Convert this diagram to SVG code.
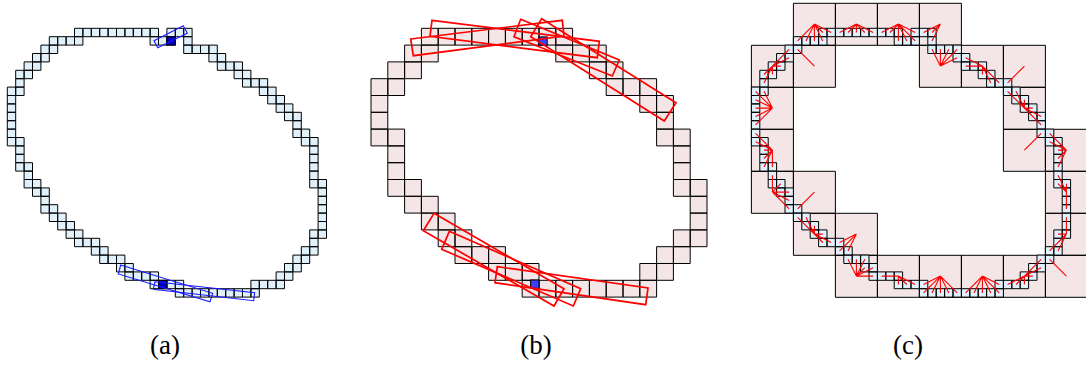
<svg xmlns="http://www.w3.org/2000/svg" xmlns:xlink="http://www.w3.org/1999/xlink" width="1086" height="367" viewBox="0 0 1086 367">
<style>
.cell{fill:#e1f1fc;stroke:#000;stroke-width:1;vector-effect:non-scaling-stroke}
.big{fill:#f4e6e6;stroke:#000;stroke-width:1;vector-effect:non-scaling-stroke}
.blue{fill:none;stroke:#1a1aff;stroke-width:1.1}
.red{fill:none;stroke:#ff0000;stroke-width:1.7}
.spoke{fill:none;stroke:#ff0000;stroke-width:1.1;vector-effect:non-scaling-stroke}
text{font-family:"Liberation Serif","Times New Roman",serif;font-size:27px;fill:#000;text-anchor:middle}
</style>
<defs>
<path id="curve" class="cell" d="M8 0h1v1h-1zM9 0h1v1h-1zM10 0h1v1h-1zM11 0h1v1h-1zM12 0h1v1h-1zM13 0h1v1h-1zM14 0h1v1h-1zM15 0h1v1h-1zM16 0h1v1h-1zM17 0h1v1h-1zM19 0h1v1h-1zM20 0h1v1h-1zM21 0h1v1h-1z
M5 1h1v1h-1zM6 1h1v1h-1zM7 1h1v1h-1zM8 1h1v1h-1zM17 1h1v1h-1zM18 1h1v1h-1zM19 1h1v1h-1zM21 1h1v1h-1z
M4 2h1v1h-1zM5 2h1v1h-1zM21 2h1v1h-1zM22 2h1v1h-1zM23 2h1v1h-1zM24 2h1v1h-1z
M3 3h1v1h-1zM4 3h1v1h-1zM24 3h1v1h-1zM25 3h1v1h-1z
M2 4h1v1h-1zM3 4h1v1h-1zM25 4h1v1h-1zM26 4h1v1h-1zM27 4h1v1h-1z
M1 5h1v1h-1zM2 5h1v1h-1zM27 5h1v1h-1zM28 5h1v1h-1z
M1 6h1v1h-1zM28 6h1v1h-1zM29 6h1v1h-1zM30 6h1v1h-1z
M0 7h1v1h-1zM1 7h1v1h-1zM30 7h1v1h-1zM31 7h1v1h-1z
M0 8h1v1h-1zM31 8h1v1h-1zM32 8h1v1h-1z
M0 9h1v1h-1zM32 9h1v1h-1zM33 9h1v1h-1z
M0 10h1v1h-1zM33 10h1v1h-1zM34 10h1v1h-1z
M0 11h1v1h-1zM34 11h1v1h-1z
M0 12h1v1h-1zM34 12h1v1h-1zM35 12h1v1h-1z
M0 13h1v1h-1zM1 13h1v1h-1zM35 13h1v1h-1zM36 13h1v1h-1z
M1 14h1v1h-1zM36 14h1v1h-1z
M1 15h1v1h-1zM36 15h1v1h-1z
M1 16h1v1h-1zM2 16h1v1h-1zM36 16h1v1h-1z
M2 17h1v1h-1zM36 17h1v1h-1z
M2 18h1v1h-1zM3 18h1v1h-1zM36 18h1v1h-1zM37 18h1v1h-1z
M3 19h1v1h-1zM4 19h1v1h-1zM37 19h1v1h-1z
M4 20h1v1h-1zM37 20h1v1h-1z
M4 21h1v1h-1zM5 21h1v1h-1zM37 21h1v1h-1z
M5 22h1v1h-1zM6 22h1v1h-1zM37 22h1v1h-1z
M6 23h1v1h-1zM7 23h1v1h-1zM37 23h1v1h-1z
M7 24h1v1h-1zM8 24h1v1h-1zM36 24h1v1h-1zM37 24h1v1h-1z
M8 25h1v1h-1zM9 25h1v1h-1zM10 25h1v1h-1zM36 25h1v1h-1z
M10 26h1v1h-1zM11 26h1v1h-1zM35 26h1v1h-1zM36 26h1v1h-1z
M11 27h1v1h-1zM12 27h1v1h-1zM13 27h1v1h-1zM34 27h1v1h-1zM35 27h1v1h-1z
M13 28h1v1h-1zM14 28h1v1h-1zM33 28h1v1h-1zM34 28h1v1h-1z
M14 29h1v1h-1zM15 29h1v1h-1zM16 29h1v1h-1zM17 29h1v1h-1zM32 29h1v1h-1zM33 29h1v1h-1z
M17 30h1v1h-1zM18 30h1v1h-1zM19 30h1v1h-1zM20 30h1v1h-1zM29 30h1v1h-1zM30 30h1v1h-1zM31 30h1v1h-1zM32 30h1v1h-1z
M20 31h1v1h-1zM21 31h1v1h-1zM22 31h1v1h-1zM23 31h1v1h-1zM24 31h1v1h-1zM25 31h1v1h-1zM26 31h1v1h-1zM27 31h1v1h-1zM28 31h1v1h-1zM29 31h1v1h-1z"/>
</defs>

<g id="panel-a">
<use href="#curve" xlink:href="#curve" transform="translate(7.3 28.3) scale(8.4)"/>
<rect x="166.9" y="36.7" width="8.4" height="8.4" fill="#0000c0" stroke="#000" stroke-width="1"/>
<rect x="158.5" y="280.3" width="8.4" height="8.4" fill="#0000c0" stroke="#000" stroke-width="1"/>
<polygon class="blue" points="154,40.7 183.3,25.7 187.3,33.3 157.7,47.7"/>
<polygon class="blue" points="120.7,265 212.7,293.3 210,301.7 118.3,274"/>
<polygon class="blue" points="155,281.7 254.7,292.7 253.7,300.7 153.3,289.3"/>
</g>

<g id="panel-b">
<path class="big" transform="translate(371 28.3) scale(16.8)" d="M3 0h1v1h-1zM4 0h1v1h-1zM5 0h1v1h-1zM6 0h1v1h-1zM7 0h1v1h-1zM8 0h1v1h-1zM9 0h1v1h-1zM10 0h1v1h-1zM11 0h1v1h-1z
M2 1h1v1h-1zM3 1h1v1h-1zM11 1h1v1h-1zM12 1h1v1h-1zM13 1h1v1h-1z
M1 2h1v1h-1zM2 2h1v1h-1zM13 2h1v1h-1zM14 2h1v1h-1z
M0 3h1v1h-1zM1 3h1v1h-1zM14 3h1v1h-1zM15 3h1v1h-1zM16 3h1v1h-1z
M0 4h1v1h-1zM16 4h1v1h-1zM17 4h1v1h-1z
M0 5h1v1h-1zM17 5h1v1h-1z
M0 6h1v1h-1zM1 6h1v1h-1zM17 6h1v1h-1zM18 6h1v1h-1z
M1 7h1v1h-1zM18 7h1v1h-1z
M1 8h1v1h-1zM18 8h1v1h-1z
M1 9h1v1h-1zM2 9h1v1h-1zM18 9h1v1h-1zM19 9h1v1h-1z
M2 10h1v1h-1zM3 10h1v1h-1zM19 10h1v1h-1z
M3 11h1v1h-1zM4 11h1v1h-1zM19 11h1v1h-1z
M4 12h1v1h-1zM5 12h1v1h-1zM18 12h1v1h-1zM19 12h1v1h-1z
M5 13h1v1h-1zM6 13h1v1h-1zM7 13h1v1h-1zM17 13h1v1h-1zM18 13h1v1h-1z
M7 14h1v1h-1zM8 14h1v1h-1zM9 14h1v1h-1zM16 14h1v1h-1zM17 14h1v1h-1z
M9 15h1v1h-1zM10 15h1v1h-1zM11 15h1v1h-1zM12 15h1v1h-1zM13 15h1v1h-1zM14 15h1v1h-1zM15 15h1v1h-1zM16 15h1v1h-1z"/>
<rect x="538.8" y="36.9" width="8.4" height="8.4" fill="#3f3fff" stroke="#000" stroke-width="1"/>
<rect x="530.6" y="280" width="8.4" height="8.4" fill="#3f3fff" stroke="#000" stroke-width="1"/>
<polygon class="red" points="432,20.3 599.3,41.3 597.3,57.7 430,36.3"/>
<polygon class="red" points="410.7,39 562.3,20.3 564,36 413.3,55.7"/>
<polygon class="red" points="520.7,19.3 619.3,60 612.3,76 514,36.7"/>
<polygon class="red" points="541.7,18.7 676,102.7 664.3,121 530.7,36.7"/>
<polygon class="red" points="434,213.3 564,288.7 554,306 423.3,230.7"/>
<polygon class="red" points="449.3,231.3 580.7,288.7 573.3,306 441.7,249.3"/>
<polygon class="red" points="497.3,266.7 648,288 645.7,304.7 495,282.7"/>
</g>

<g id="panel-c">
<path class="big" transform="translate(751.4 3.3) scale(42)" d="M1 0h1v1h-1zM2 0h1v1h-1zM3 0h1v1h-1zM4 0h1v1h-1z
M0 1h1v1h-1zM1 1h1v1h-1zM4 1h1v1h-1zM5 1h1v1h-1zM6 1h1v1h-1z
M0 2h1v1h-1zM6 2h1v1h-1z
M0 3h1v1h-1zM6 3h1v1h-1zM7 3h1v1h-1z
M0 4h1v1h-1zM1 4h1v1h-1zM7 4h1v1h-1z
M1 5h1v1h-1zM2 5h1v1h-1zM7 5h1v1h-1z
M2 6h1v1h-1zM3 6h1v1h-1zM4 6h1v1h-1zM5 6h1v1h-1zM6 6h1v1h-1zM7 6h1v1h-1z"/>
<use href="#curve" xlink:href="#curve" transform="translate(751.4 28.3) scale(8.4)"/>
<path class="spoke" transform="translate(751.4 28.3) scale(8.4)" d="M7.5 -.5L8.5 .5M7.5 -.5L9.5 .5M7.5 -.5L5.5 1.5M7.5 -.5L6.5 1.5M7.5 -.5L7.5 1.5M7.5 -.5L8.5 1.5
M12.5 -.5L10.5 .5M12.5 -.5L11.5 .5M12.5 -.5L12.5 .5M12.5 -.5L13.5 .5M12.5 -.5L14.5 .5
M17.5 -.5L15.5 .5M17.5 -.5L16.5 .5M17.5 -.5L17.5 .5M17.5 -.5L19.5 .5M17.5 -.5L17.5 1.5M17.5 -.5L18.5 1.5M17.5 -.5L19.5 1.5
M22.5 -.5L20.5 .5M22.5 -.5L21.5 .5M22.5 -.5L21.5 1.5
M2.5 4.5L4.5 2.5M2.5 4.5L3.5 3.5M2.5 4.5L4.5 3.5M2.5 4.5L3.5 4.5M2.5 4.5L1.5 5.5M2.5 4.5L2.5 5.5M2.5 4.5L1.5 6.5
M7.5 4.5L5.5 2.5
M22.5 4.5L21.5 2.5M22.5 4.5L22.5 2.5M22.5 4.5L23.5 2.5M22.5 4.5L24.5 2.5M22.5 4.5L24.5 3.5
M27.5 4.5L25.5 3.5M27.5 4.5L25.5 4.5M27.5 4.5L26.5 4.5M27.5 4.5L27.5 5.5M27.5 4.5L28.5 5.5M27.5 4.5L28.5 6.5M27.5 4.5L29.5 6.5
M32.5 4.5L30.5 6.5
M2.5 9.5L.5 7.5M2.5 9.5L1.5 7.5M2.5 9.5L.5 8.5M2.5 9.5L.5 9.5M2.5 9.5L.5 10.5M2.5 9.5L.5 11.5
M32.5 9.5L30.5 7.5M32.5 9.5L31.5 7.5M32.5 9.5L31.5 8.5M32.5 9.5L32.5 8.5M32.5 9.5L33.5 9.5M32.5 9.5L33.5 10.5M32.5 9.5L34.5 10.5M32.5 9.5L34.5 11.5
M2.5 14.5L.5 12.5M2.5 14.5L.5 13.5M2.5 14.5L1.5 13.5M2.5 14.5L1.5 14.5M2.5 14.5L1.5 15.5M2.5 14.5L1.5 16.5M2.5 14.5L2.5 16.5
M32.5 14.5L34.5 12.5
M37.5 14.5L35.5 12.5M37.5 14.5L35.5 13.5M37.5 14.5L36.5 13.5M37.5 14.5L36.5 14.5M37.5 14.5L36.5 15.5M37.5 14.5L36.5 16.5
M2.5 19.5L2.5 17.5M2.5 19.5L2.5 18.5M2.5 19.5L3.5 18.5M2.5 19.5L3.5 19.5M2.5 19.5L4.5 19.5M2.5 19.5L4.5 20.5M2.5 19.5L4.5 21.5
M7.5 19.5L5.5 21.5
M37.5 19.5L36.5 17.5M37.5 19.5L36.5 18.5M37.5 19.5L37.5 18.5M37.5 19.5L37.5 20.5M37.5 19.5L37.5 21.5
M7.5 24.5L5.5 22.5M7.5 24.5L6.5 22.5M7.5 24.5L6.5 23.5M7.5 24.5L7.5 23.5M7.5 24.5L8.5 24.5M7.5 24.5L8.5 25.5M7.5 24.5L9.5 25.5
M12.5 24.5L10.5 25.5M12.5 24.5L10.5 26.5M12.5 24.5L11.5 26.5
M37.5 24.5L37.5 22.5M37.5 24.5L37.5 23.5M37.5 24.5L36.5 24.5M37.5 24.5L36.5 25.5M37.5 24.5L35.5 26.5M37.5 24.5L36.5 26.5
M12.5 29.5L11.5 27.5M12.5 29.5L12.5 27.5M12.5 29.5L13.5 27.5M12.5 29.5L13.5 28.5M12.5 29.5L14.5 28.5M12.5 29.5L14.5 29.5
M17.5 29.5L15.5 29.5M17.5 29.5L16.5 29.5M17.5 29.5L17.5 30.5M17.5 29.5L18.5 30.5M17.5 29.5L19.5 30.5
M22.5 29.5L20.5 30.5M22.5 29.5L20.5 31.5M22.5 29.5L21.5 31.5M22.5 29.5L22.5 31.5M22.5 29.5L23.5 31.5M22.5 29.5L24.5 31.5
M27.5 29.5L29.5 30.5M27.5 29.5L25.5 31.5M27.5 29.5L26.5 31.5M27.5 29.5L27.5 31.5M27.5 29.5L28.5 31.5M27.5 29.5L29.5 31.5
M32.5 29.5L34.5 27.5M32.5 29.5L33.5 28.5M32.5 29.5L34.5 28.5M32.5 29.5L33.5 29.5M32.5 29.5L30.5 30.5M32.5 29.5L31.5 30.5M32.5 29.5L32.5 30.5
M37.5 29.5L35.5 27.5"/>
</g>

<g id="labels">
<text x="165" y="354">(a)</text>
<text x="536" y="354">(b)</text>
<text x="908" y="354">(c)</text>
</g>
</svg>
